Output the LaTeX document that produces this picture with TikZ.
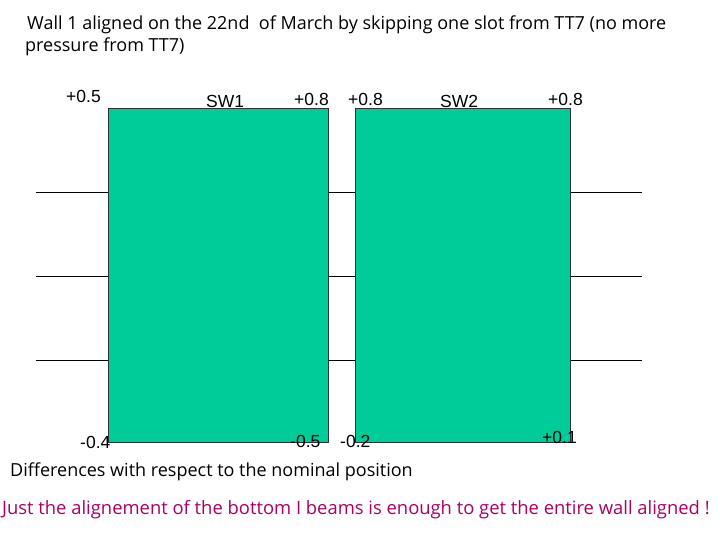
\documentclass[tikz,border=0pt]{standalone}
\usepackage{fontspec}
\setmainfont{Open Sans}
\newfontfamily\arialf{Liberation Sans}
\definecolor{wallgreen}{RGB}{0,204,153}
\definecolor{notered}{RGB}{170,0,100}
\tikzset{
  wall/.style={fill=wallgreen,draw=black!80,line width=0.8pt},
  grid/.style={draw=black,line width=0.6pt},
  lbl/.style={font=\arialf\fontsize{17.5}{20}\selectfont,inner sep=0pt,anchor=base west},
  txt/.style={font=\fontsize{18}{20}\selectfont,inner sep=0pt,anchor=base west}
}
\begin{document}
\begin{tikzpicture}[x=1pt,y=-1pt]
\useasboundingbox (0,0) rectangle (720,540);
\coordinate (l1a) at (36,192); \coordinate (l1b) at (642,192);
\coordinate (l2a) at (36,276); \coordinate (l2b) at (642,276);
\coordinate (l3a) at (36,360); \coordinate (l3b) at (642,360);
\draw[grid] (l1a) -- (l1b);
\draw[grid] (l2a) -- (l2b);
\draw[grid] (l3a) -- (l3b);
\node[wall,minimum width=220pt,minimum height=334pt,inner sep=0pt,anchor=north west] (sw1) at (108,108) {};
\node[wall,minimum width=215pt,minimum height=334pt,inner sep=0pt,anchor=north west] (sw2) at (355,108) {};
\node[txt] (t1) at (27,30) {Wall 1 aligned on the 22nd\ \ of March by skipping one slot from TT7 (no more};
\node[txt] (t2) at (25,52) {pressure from TT7)};
\node[lbl] (a1) at (66,103) {+0.5};
\node[lbl] (a2) at (206,108) {SW1};
\node[lbl] (a3) at (294,106) {+0.8};
\node[lbl] (a4) at (348,106) {+0.8};
\node[lbl] (a5) at (440,108) {SW2};
\node[lbl] (a6) at (548,106) {+0.8};
\node[lbl] (b1) at (80,448) {-0.4};
\node[lbl] (b2) at (290,447) {-0.5};
\node[lbl] (b3) at (340,447) {-0.2};
\node[lbl] (b4) at (542,443) {+0.1};
\node[txt] (d) at (10,476) {Differences with respect to the nominal position};
\node[txt,text=notered,font=\fontsize{18.4}{20}\selectfont] (r) at (2,514) {Just the alignement of the bottom I beams is enough to get the entire wall aligned !};
\end{tikzpicture}
\end{document}
